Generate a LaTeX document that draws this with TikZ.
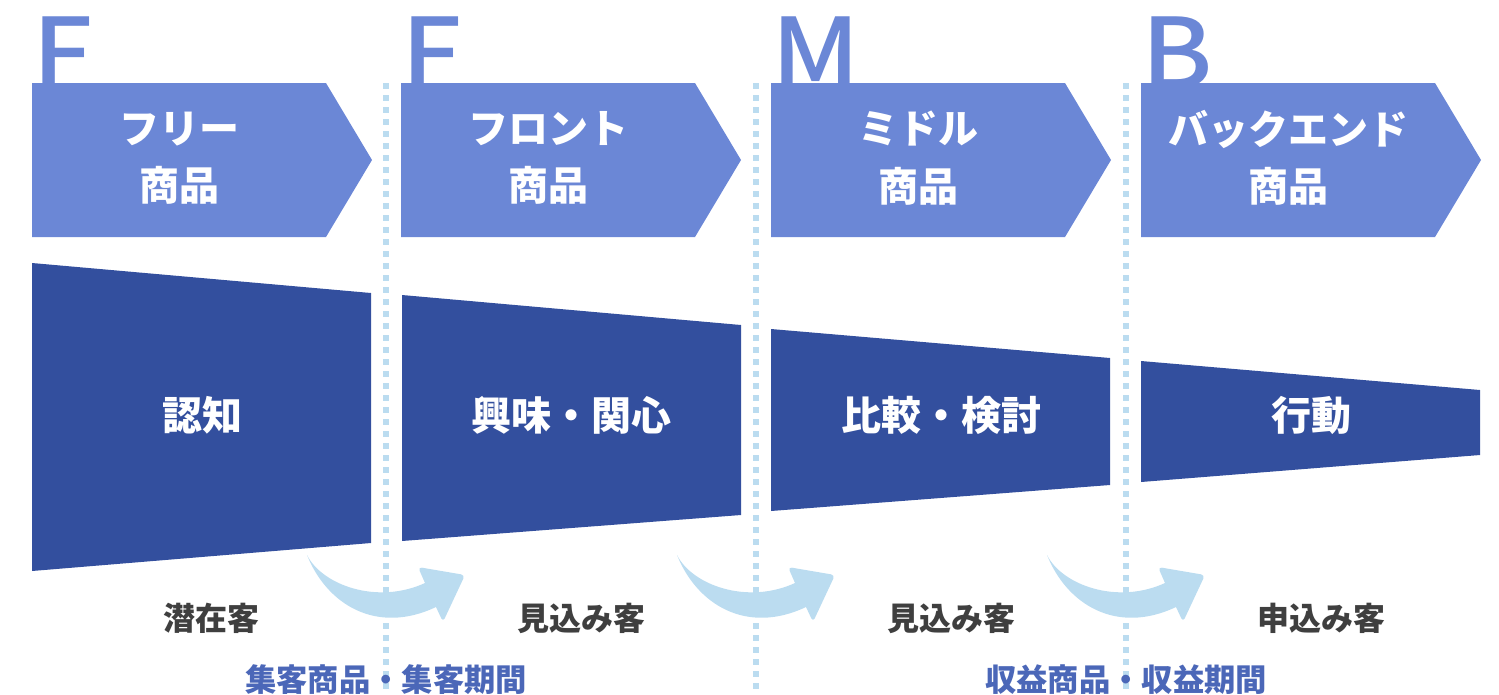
\documentclass[tikz,border=0pt]{standalone}
\usepackage{fontspec}
\setmainfont{Noto Sans CJK JP}
\newfontfamily\letterfont{Noto Sans CJK JP Medium}[FakeStretch=1.1]
\usepackage{tikz}
\usepackage{xcolor}
\definecolor{stageblue}{HTML}{6B87D6}
\definecolor{funnelblue}{HTML}{334F9E}
\definecolor{flowblue}{HTML}{BBDCF0}
\definecolor{labelgray}{HTML}{3F3F3F}
\definecolor{termblue}{HTML}{4B67B8}

\begin{document}
\begin{tikzpicture}[x=0.75pt,y=-0.75pt,
  letter/.style={anchor=base west, inner sep=0pt, text=stageblue, font=\letterfont\fontsize{73}{73}\selectfont},
  stagetext/.style={text=white, align=center, font=\bfseries\fontsize{30}{43}\selectfont},
  funneltext/.style={text=white, font=\bfseries\fontsize{30}{30}\selectfont},
  customer/.style={text=labelgray, font=\bfseries\fontsize{24}{24}\selectfont},
  period/.style={text=termblue, font=\bfseries\fontsize{23.5}{23.5}\selectfont},
  divider/.style={flowblue, line width=4.5pt, dash pattern=on 4.5pt off 4.5pt}]
\useasboundingbox (0,0) rectangle (1499,694);

% Big letters (partly hidden by the stage boxes)
\node[letter] (letterF1) at (32,88) {F};
\node[letter] (letterF2) at (401,88) {F};
\node[letter] (letterM) at (771,88) {M};
\node[letter] (letterB) at (1141,88) {B};

% Stage boxes
\fill[stageblue] (32,83) -- (326,83) -- (372,160) -- (326,237) -- (32,237) -- cycle;
\fill[stageblue] (401,83) -- (695,83) -- (741,160) -- (695,237) -- (401,237) -- cycle;
\fill[stageblue] (771,83) -- (1065,83) -- (1111,160) -- (1065,237) -- (771,237) -- cycle;
\fill[stageblue] (1141,83) -- (1435,83) -- (1481,160) -- (1435,237) -- (1141,237) -- cycle;
\node[stagetext] (free) at (179,158) {フリー\\商品};
\node[stagetext] (front) at (548,158) {フロント\\商品};
\node[stagetext] (middle) at (918,158) {ミドル\\商品};
\node[stagetext] (backend) at (1288,158) {バックエンド\\商品};

% Funnel
\fill[funnelblue] (32,263) -- (371,293) -- (371,543) -- (32,571) -- cycle;
\fill[funnelblue] (402,295) -- (741,325) -- (741,515) -- (402,541) -- cycle;
\fill[funnelblue] (771,329) -- (1110,358) -- (1110,485) -- (771,511) -- cycle;
\fill[funnelblue] (1141,361) -- (1480,390) -- (1480,455) -- (1141,482) -- cycle;
\node[funneltext] (aware) at (202,415) {認知};
\node[funneltext] (interest) at (571,415) {興味・関心};
\node[funneltext] (compare) at (941,415) {比較・検討};
\node[funneltext] (action) at (1311,415) {行動};

% Dotted dividers
\coordinate (cutA) at (386,83);
\coordinate (cutB) at (756,83);
\coordinate (cutC) at (1126,83);
\draw[divider] (cutA) -- (cutA |- 0,694);
\draw[divider] (cutB) -- (cutB |- 0,694);
\draw[divider] (cutC) -- (cutC |- 0,694);

% Curved arrows between the stages
\fill[flowblue, shift={(307,555)}] (0,0) .. controls (15,30) and (70,50) .. (118,28)
  [rounded corners=3pt] -- (111,12) -- (158,20) -- (136,67) [sharp corners] -- (129,52)
  .. controls (70,80) and (20,50) .. cycle;
\fill[flowblue, shift={(677,555)}] (0,0) .. controls (15,30) and (70,50) .. (118,28)
  [rounded corners=3pt] -- (111,12) -- (158,20) -- (136,67) [sharp corners] -- (129,52)
  .. controls (70,80) and (20,50) .. cycle;
\fill[flowblue, shift={(1047,555)}] (0,0) .. controls (15,30) and (70,50) .. (118,28)
  [rounded corners=3pt] -- (111,12) -- (158,20) -- (136,67) [sharp corners] -- (129,52)
  .. controls (70,80) and (20,50) .. cycle;

% Customers
\node[customer] (latent) at (211,618) {潜在客};
\node[customer] (prospectA) at (581,618) {見込み客};
\node[customer] (prospectB) at (951,618) {見込み客};
\node[customer] (applicant) at (1321,618) {申込み客};

% Periods
\node[period] (acquire) at (386,680) {集客商品・集客期間};
\node[period] (revenue) at (1126,680) {収益商品・収益期間};
\end{tikzpicture}
\end{document}
